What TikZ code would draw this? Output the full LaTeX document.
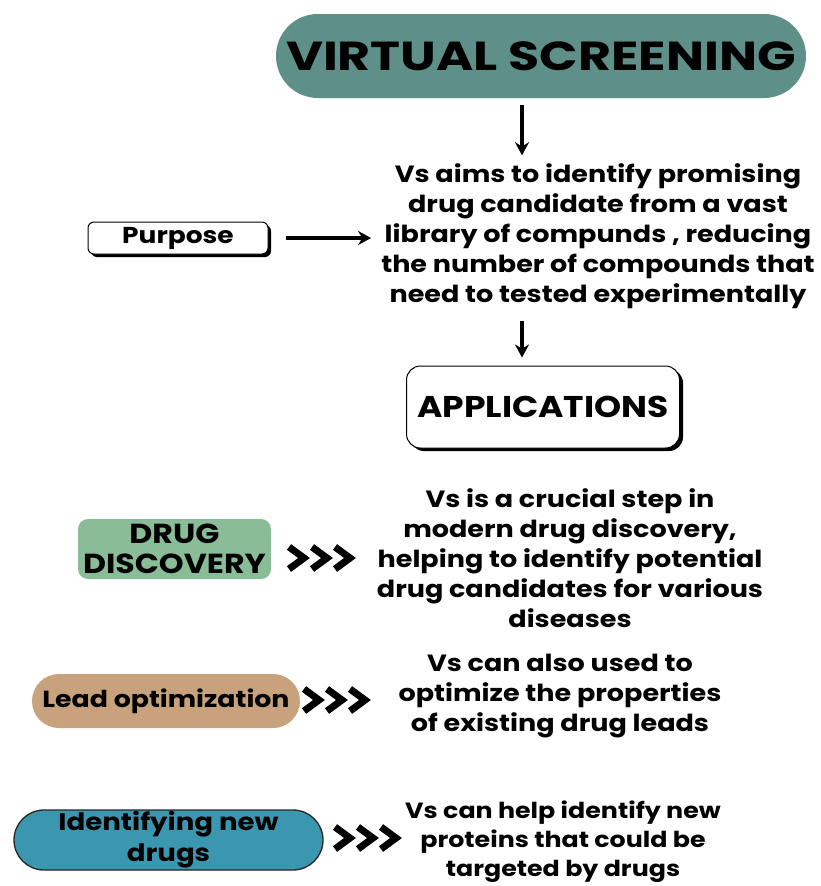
\documentclass[tikz,border=0pt]{standalone}
\usepackage{fontspec}
\setmainfont{Poppins}[FakeStretch=1.15]
\newfontfamily\titlefont{Poppins}[FakeStretch=1.25]
\usetikzlibrary{arrows.meta,calc}
\definecolor{vsteal}{HTML}{5E8F88}
\definecolor{ddgreen}{HTML}{88BD98}
\definecolor{lotan}{HTML}{C8A27C}
\definecolor{idblue}{HTML}{3B97B0}
\tikzset{
  arr/.style={-{Stealth[length=13pt,width=14pt]}, line width=3.6pt},
  body/.style={align=center, font=\fontsize{23.5}{30}\selectfont\bfseries, inner sep=0pt},
  shadowed/.style={draw=black, line width=1pt, fill=white},
  chev/.style={line width=7pt, line cap=butt, line join=miter},
}
\newcommand\chevrons[1]{%
  \foreach \i in {0,1,2}{
    \draw[chev] ($(#1)+(\i*23,-11)$) -- ++(15,11) -- ++(-15,11);
  }%
}
\begin{document}
\begin{tikzpicture}[x=1pt,y=-1pt]
\useasboundingbox[fill=white] (0,0) rectangle (820,886);

% Title
\node[fill=vsteal, rounded corners=42pt, minimum width=530pt, minimum height=84pt,
      font=\titlefont\fontsize{40.5}{44}\selectfont\bfseries, inner sep=0pt] (vs) at (541,56) {VIRTUAL SCREENING};

% Purpose text
\node[body, font=\fontsize{23.5}{30}\selectfont\bfseries] (t1) at (598,236) {Vs aims to identify promising\\drug candidate from a vast\\library of compunds , reducing\\the number of compounds that\\need to tested experimentally};

% Purpose box with shadow
\fill[black, rounded corners=6pt] (91,225) rectangle (271,257);
\node[shadowed, rounded corners=6pt, minimum width=180pt, minimum height=32pt,
      font=\fontsize{23}{26}\selectfont\bfseries, inner sep=0pt] (pur) at (178,238) {Purpose};

% Applications box with shadow
\fill[black, rounded corners=14pt] (410,369) rectangle (683,451);
\node[shadowed, rounded corners=14pt, minimum width=273pt, minimum height=82pt,
      font=\fontsize{30}{34}\selectfont\bfseries, inner sep=0pt] (app) at (543,407) {APPLICATIONS};

% Arrows
\draw[arr] ([shift={(-19,7)}]vs.south) -- ([shift={(-76,-8)}]t1.north);
\draw[arr] ([xshift=17pt]pur.east) -- ([xshift=-10pt]t1.west |- pur.east);
\draw[arr] ([shift={(-76,12)}]t1.south) -- ([shift={(-21,-8)}]app.north);

% Drug discovery
\node[fill=ddgreen, rounded corners=10pt, minimum width=193pt, minimum height=60pt,
      align=center, font=\fontsize{27.5}{30}\selectfont\bfseries, inner sep=0pt] (dd) at (174.5,549) {DRUG\\DISCOVERY};
\node[body] (t2) at (570,558) {Vs is a crucial step in\\modern drug discovery,\\helping to identify potential\\drug candidates for various\\diseases};
\coordinate (c1) at (289,558);
\chevrons{c1}

% Lead optimization
\node[fill=lotan, rounded corners=27pt, minimum width=268pt, minimum height=54pt,
      font=\fontsize{23.3}{26}\selectfont\bfseries, inner sep=0pt] (lo) at (166,701) {Lead optimization};
\node[body] (t3) at (560,696) {Vs can also used to\\optimize the properties\\of existing drug leads};
\coordinate (c2) at (304,700);
\chevrons{c2}

% Identifying new drugs
\node[fill=idblue, draw=black!85, line width=1.3pt, rounded corners=30pt, minimum width=309pt, minimum height=60pt,
      align=center, font=\fontsize{24}{31}\selectfont\bfseries, inner sep=0pt] (idn) at (168.5,840) {Identifying new\\drugs};
\node[body, font=\fontsize{22}{29}\selectfont\bfseries] (t4) at (563,842) {Vs can help identify new\\proteins that could be\\targeted by drugs};
\coordinate (c3) at (335,838);
\chevrons{c3}
\end{tikzpicture}
\end{document}
